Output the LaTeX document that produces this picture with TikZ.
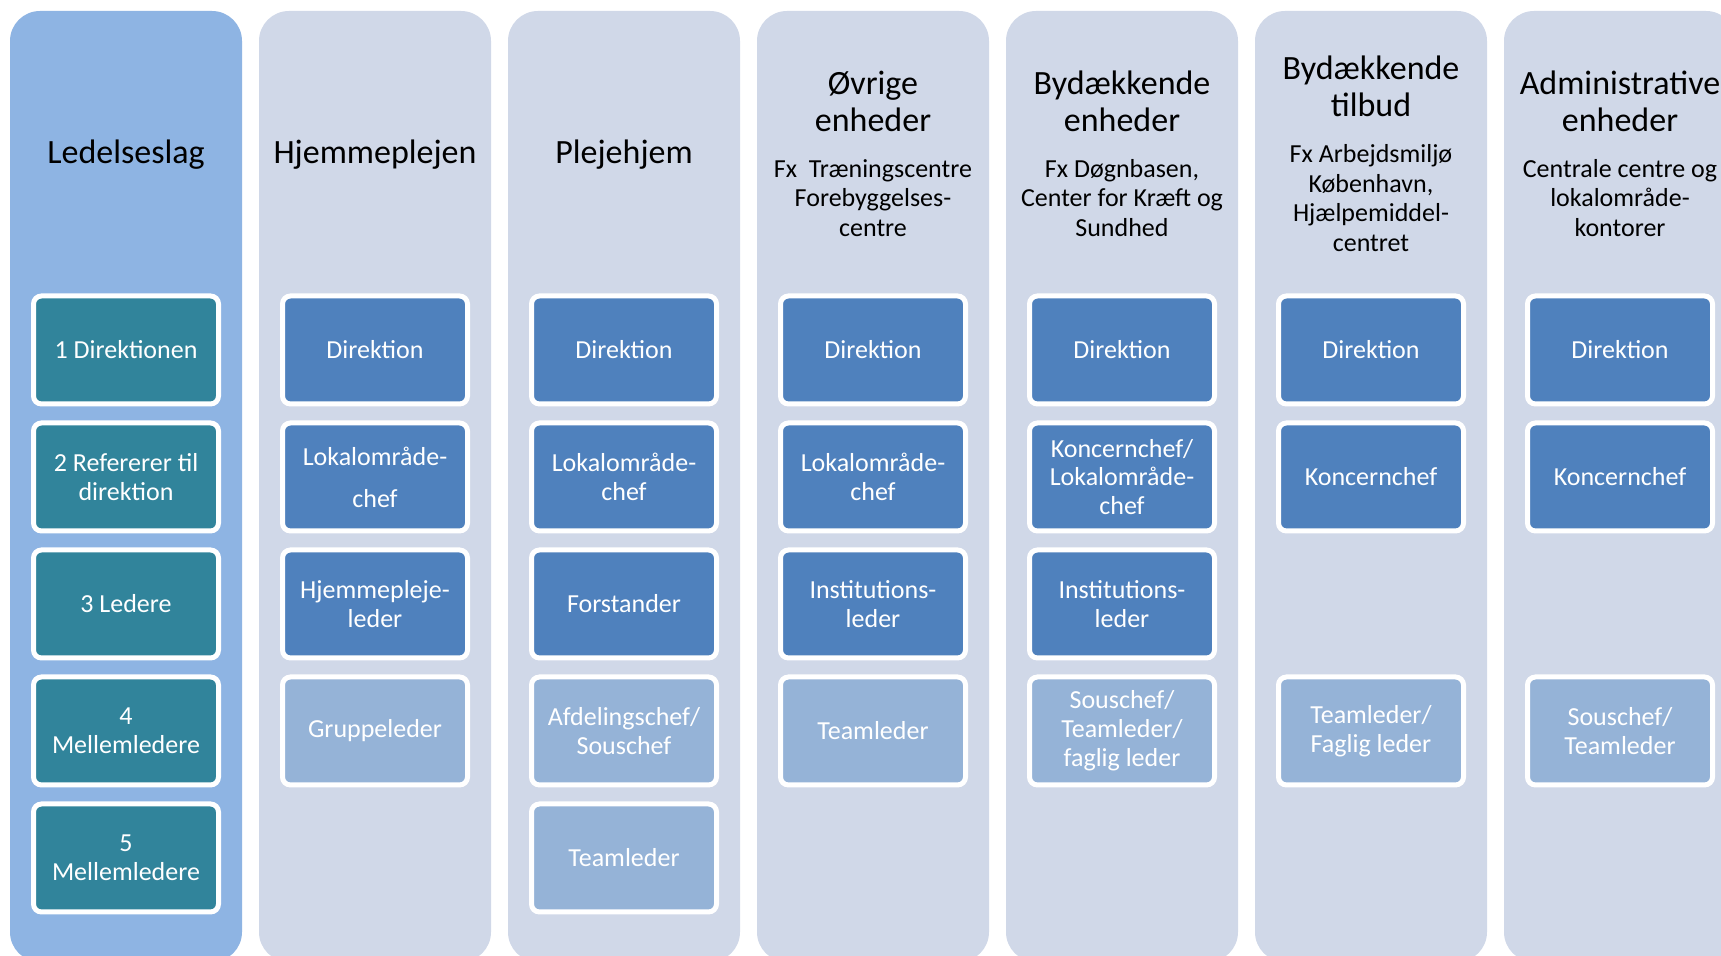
\documentclass[tikz,border=0pt]{standalone}
\usepackage{fontspec}
\setmainfont{Carlito}
\definecolor{bgfirst}{HTML}{8EB4E3}
\definecolor{bgother}{HTML}{D0D8E8}
\definecolor{tealc}{HTML}{31849B}
\definecolor{darkc}{HTML}{4F81BD}
\definecolor{lightc}{HTML}{95B3D7}
\tikzset{
  colbg/.style={rounded corners=15pt},
  coltitle/.style={align=center, font=\fontsize{17}{18.5}\selectfont, inner sep=0pt, text=black},
  colsub/.style={align=center, font=\fontsize{13}{14.8}\selectfont, inner sep=0pt, text=black},
  box/.style={draw=white, line width=2.5pt, rounded corners=4pt, minimum width=92.5pt,
    minimum height=54pt, text=white, align=center, inner sep=0pt,
    font=\fontsize{13}{14.4}\selectfont},
  boxteal/.style={box, fill=tealc},
  boxdark/.style={box, fill=darkc},
  boxlight/.style={box, fill=lightc},
}
\begin{document}
\begin{tikzpicture}[x=0.5pt, y=-0.5pt]
\useasboundingbox (0,0) rectangle (1721,956);
\clip (0,0) rectangle (1721,956);
\fill[white] (0,0) rectangle (1721,956);
% columns
\fill[colbg, bgfirst] (10,11) rectangle (242,962);
\fill[colbg, bgother] (259,11) rectangle (491,962);
\fill[colbg, bgother] (508,11) rectangle (740,962);
\fill[colbg, bgother] (757,11) rectangle (989,962);
\fill[colbg, bgother] (1006,11) rectangle (1238,962);
\fill[colbg, bgother] (1255,11) rectangle (1487,962);
\fill[colbg, bgother] (1504,11) rectangle (1736,962);
% titles
\node[coltitle] (t1) at (126,155) {Ledelseslag};
\node[coltitle] (t2) at (375,155) {Hjemmeplejen};
\node[coltitle] (t3) at (624,155) {Plejehjem};
\node[coltitle] (t4) at (873,101) {Øvrige\\enheder};
\node[colsub] (s4) at (873,198) {Fx\ \ Træningscentre\\Forebyggelses-\\centre};
\node[coltitle] (t5) at (1122,101) {Bydækkende\\enheder};
\node[colsub] (s5) at (1122,198) {Fx Døgnbasen,\\Center for Kræft og\\Sundhed};
\node[coltitle] (t6) at (1371,86) {Bydækkende\\tilbud};
\node[colsub] (s6) at (1371,198) {Fx Arbejdsmiljø\\København,\\Hjælpemiddel-\\centret};
\node[coltitle] (t7) at (1620,101) {Administrative\\enheder};
\node[colsub] (s7) at (1620,198) {Centrale centre og\\lokalområde-\\kontorer};
% column 1
\node[boxteal] (a1) at (126,350) {1 Direktionen};
\node[boxteal] (a2) at (126,477) {2 Refererer til\\direktion};
\node[boxteal] (a3) at (126,604) {3 Ledere};
\node[boxteal] (a4) at (126,731) {4\\Mellemledere};
\node[boxteal] (a5) at (126,858) {5\\Mellemledere};
% column 2
\node[boxdark] (b1) at (375,350) {Direktion};
\node[boxdark] (b2) at (375,477) {Lokalområde-\\[6.5pt]chef};
\node[boxdark] (b3) at (375,604) {Hjemmepleje-\\leder};
\node[boxlight] (b4) at (375,731) {Gruppeleder};
% column 3
\node[boxdark] (c1) at (624,350) {Direktion};
\node[boxdark] (c2) at (624,477) {Lokalområde-\\chef};
\node[boxdark] (c3) at (624,604) {Forstander};
\node[boxlight] (c4) at (624,731) {Afdelingschef/\\Souschef};
\node[boxlight] (c5) at (624,858) {Teamleder};
% column 4
\node[boxdark] (d1) at (873,350) {Direktion};
\node[boxdark] (d2) at (873,477) {Lokalområde-\\chef};
\node[boxdark] (d3) at (873,604) {Institutions-\\leder};
\node[boxlight] (d4) at (873,731) {Teamleder};
% column 5
\node[boxdark] (e1) at (1122,350) {Direktion};
\node[boxdark] (e2) at (1122,477) {Koncernchef/\\Lokalområde-\\chef};
\node[boxdark] (e3) at (1122,604) {Institutions-\\leder};
\node[boxlight] (e4) at (1122,731) {Souschef/\\Teamleder/\\faglig leder};
% column 6
\node[boxdark] (f1) at (1371,350) {Direktion};
\node[boxdark] (f2) at (1371,477) {Koncernchef};
\node[boxlight] (f4) at (1371,731) {Teamleder/\\Faglig leder};
% column 7
\node[boxdark] (g1) at (1620,350) {Direktion};
\node[boxdark] (g2) at (1620,477) {Koncernchef};
\node[boxlight] (g4) at (1620,731) {Souschef/\\Teamleder};
\end{tikzpicture}
\end{document}
